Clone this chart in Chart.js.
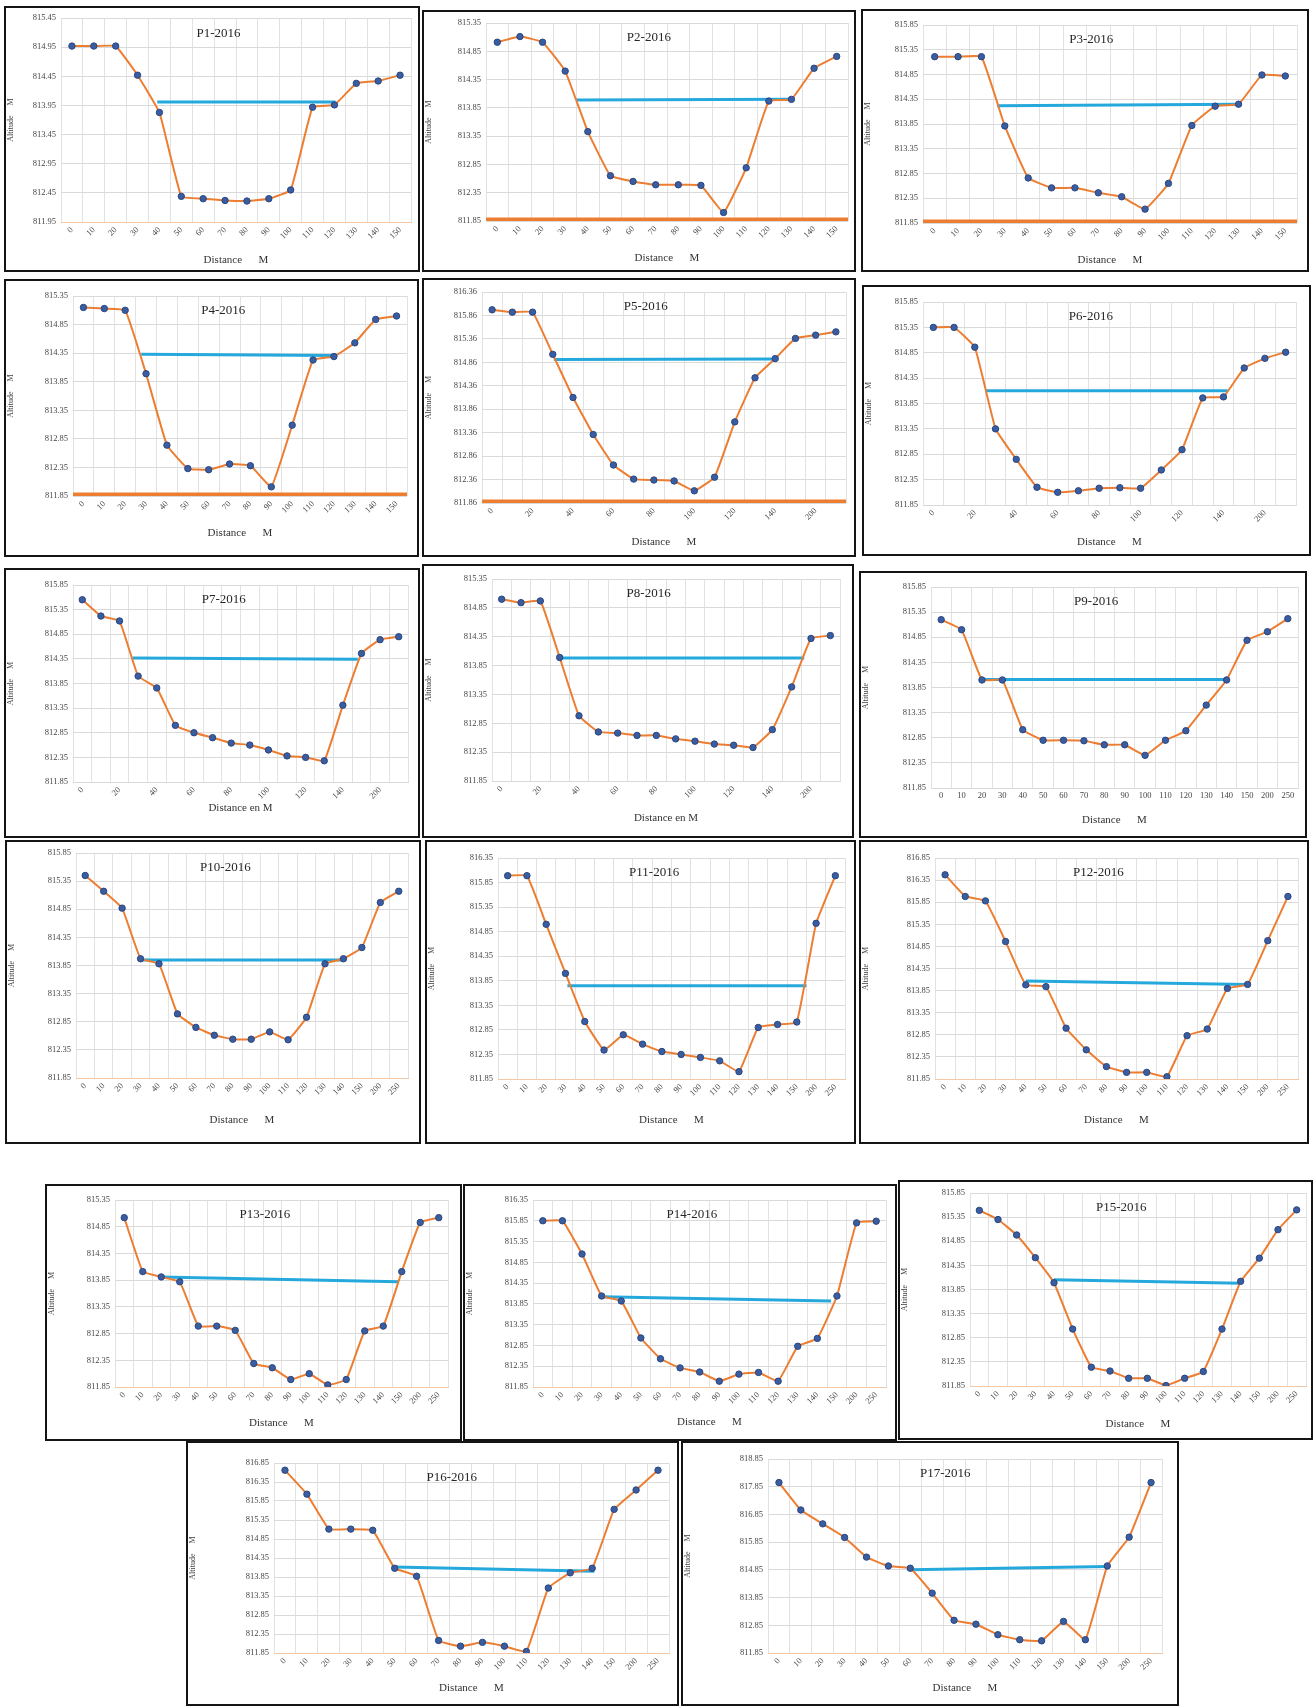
<!DOCTYPE html>
<html>
<head>
<meta charset="utf-8">
<script src="https://cdn.jsdelivr.net/npm/chart.js@4.4.0/dist/chart.umd.min.js"></script>
<style>
  body { margin: 0; background: #fff; width: 1313px; height: 1706px; position: relative; overflow: hidden; }
  .box { position: absolute; box-sizing: border-box; border: 2px solid #141414; background: #fff; }
  .box canvas { display: block; }
</style>
</head>
<body>
<script>
// distances (categories)
const dist16 = ['0', '10', '20', '30', '40', '50', '60', '70', '80', '90', '100', '110', '120', '130', '140', '150'];
const dist18 = dist16.concat(['200', '250']);

const titles = ['P1-2016', 'P2-2016', 'P3-2016', 'P4-2016', 'P5-2016', 'P6-2016', 'P7-2016', 'P8-2016', 'P9-2016',
  'P10-2016', 'P11-2016', 'P12-2016', 'P13-2016', 'P14-2016', 'P15-2016', 'P16-2016', 'P17-2016'];

// altitude of the bed (m)
const altP1 = [814.97, 814.97, 814.97, 814.47, 813.83, 812.39, 812.35, 812.32, 812.31, 812.35, 812.50, 813.92, 813.96, 814.33, 814.37, 814.47];
const altP2 = [815.01, 815.11, 815.01, 814.50, 813.43, 812.65, 812.55, 812.49, 812.49, 812.48, 812.00, 812.79, 813.97, 814.00, 814.55, 814.76];
const altP3 = [815.21, 815.21, 815.21, 813.81, 812.76, 812.56, 812.56, 812.46, 812.38, 812.13, 812.65, 813.82, 814.21, 814.25, 814.84, 814.82];
const altP4 = [815.15, 815.13, 815.10, 813.99, 812.74, 812.33, 812.31, 812.41, 812.38, 812.01, 813.09, 814.23, 814.29, 814.53, 814.94, 815.00];
const altP5 = [815.98, 815.93, 815.93, 815.03, 814.11, 813.32, 812.67, 812.37, 812.35, 812.33, 812.12, 812.41, 813.59, 814.53, 814.94, 815.37, 815.44, 815.51];
const altP6 = [815.35, 815.35, 814.96, 813.35, 812.75, 812.20, 812.10, 812.13, 812.18, 812.19, 812.18, 812.54, 812.94, 813.96, 813.98, 814.55, 814.74, 814.86];
const altP7 = [815.55, 815.22, 815.12, 814.00, 813.76, 813.00, 812.85, 812.75, 812.64, 812.60, 812.50, 812.38, 812.35, 812.28, 813.41, 814.46, 814.74, 814.80];
const altP8 = [815.00, 814.94, 814.97, 813.99, 812.98, 812.70, 812.68, 812.64, 812.64, 812.58, 812.54, 812.49, 812.47, 812.43, 812.74, 813.48, 814.32, 814.37];
const altP9 = [815.20, 815.00, 814.00, 814.00, 813.01, 812.80, 812.80, 812.79, 812.71, 812.71, 812.50, 812.80, 812.99, 813.50, 814.00, 814.79, 814.96, 815.22];
const altP10 = [815.45, 815.17, 814.87, 813.97, 813.88, 812.99, 812.75, 812.61, 812.54, 812.54, 812.67, 812.53, 812.93, 813.88, 813.97, 814.17, 814.97, 815.17];
const altP11 = [815.99, 815.99, 815.00, 814.00, 813.02, 812.44, 812.75, 812.56, 812.41, 812.35, 812.29, 812.22, 812.00, 812.90, 812.96, 813.01, 815.02, 815.99];
const altP12 = [816.47, 815.98, 815.88, 814.96, 813.98, 813.94, 813.00, 812.51, 812.13, 812.00, 812.00, 811.90, 812.83, 812.98, 813.90, 813.99, 814.98, 815.98];
const altP13 = [815.02, 814.01, 813.91, 813.82, 812.99, 812.99, 812.91, 812.29, 812.21, 811.99, 812.10, 811.89, 811.99, 812.90, 812.99, 814.01, 814.93, 815.02];
const altP14 = [815.85, 815.85, 815.05, 814.04, 813.92, 813.03, 812.53, 812.31, 812.21, 811.99, 812.16, 812.20, 811.99, 812.83, 813.02, 814.04, 815.80, 815.84];
const altP15 = [815.49, 815.30, 814.98, 814.51, 813.99, 813.03, 812.24, 812.16, 812.01, 812.01, 811.86, 812.01, 812.15, 813.03, 814.02, 814.50, 815.09, 815.50];
const altP16 = [816.66, 816.03, 815.11, 815.11, 815.08, 814.08, 813.87, 812.18, 812.03, 812.13, 812.03, 811.89, 813.56, 813.96, 814.08, 815.63, 816.14, 816.66];
const altP17 = [818.00, 817.01, 816.51, 816.02, 815.31, 814.99, 814.91, 814.01, 813.03, 812.89, 812.51, 812.33, 812.29, 812.99, 812.33, 814.99, 816.03, 818.00];

// water level: [category position, altitude] at both banks
const waterP1 = [[3.9, 814.01], [12.05, 814.01]];
const waterP2 = [[3.48, 813.99], [13, 814.00]];
const waterP3 = [[2.67, 814.22], [13, 814.25]];
const waterP4 = [[2.77, 814.33], [12.1, 814.31]];
const waterP5 = [[3.05, 814.92], [14, 814.93]];
const waterP6 = [[2.5, 814.10], [14.2, 814.10]];
const waterP7 = [[2.7, 814.37], [14.8, 814.34]];
const waterP8 = [[3, 813.98], [15.65, 813.98]];
const waterP9 = [[2, 814.01], [14, 814.01]];
const waterP10 = [[3, 813.95], [14, 813.95]];
const waterP11 = [[3.1, 813.75], [15.5, 813.75]];
const waterP12 = [[4, 814.07], [15, 813.99]];
const waterP13 = [[2, 813.91], [14.8, 813.82]];
const waterP14 = [[3, 814.02], [14.7, 813.92]];
const waterP15 = [[4, 814.05], [14, 813.98]];
const waterP16 = [[5, 814.11], [14.1, 814.00]];
const waterP17 = [[6, 814.85], [15, 814.97]];

// y axis ticks
const yMin = [811.95, 811.85, 811.85, 811.85, 811.86, 811.85, 811.85, 811.85, 811.85, 811.85, 811.85, 811.85, 811.85, 811.85, 811.85, 811.85, 811.85];
const yMax = [815.45, 815.35, 815.85, 815.35, 816.36, 815.85, 815.85, 815.35, 815.85, 815.85, 816.35, 816.85, 815.35, 816.35, 815.85, 816.85, 818.85];
const yStep = [0.5, 0.5, 0.5, 0.5, 0.5, 0.5, 0.5, 0.5, 0.5, 0.5, 0.5, 0.5, 0.5, 0.5, 0.5, 0.5, 1];

const altitudes = [altP1, altP2, altP3, altP4, altP5, altP6, altP7, altP8, altP9, altP10, altP11, altP12, altP13, altP14, altP15, altP16, altP17];
const waters = [waterP1, waterP2, waterP3, waterP4, waterP5, waterP6, waterP7, waterP8, waterP9, waterP10, waterP11, waterP12, waterP13, waterP14, waterP15, waterP16, waterP17];

// page layout: box [x, y, w, h] and plot insets [left, top, right, bottom, below-title]
const boxes = [
  [4, 6, 416, 266], [422, 10, 434, 262], [861, 9, 448, 263],
  [4, 279, 415, 278], [422, 278, 434, 279], [862, 285, 449, 271],
  [4, 568, 416, 270], [422, 564, 432, 274], [859, 571, 448, 267],
  [5, 840, 416, 304], [425, 840, 431, 304], [859, 840, 450, 304],
  [45, 1184, 417, 257], [463, 1184, 434, 257], [898, 1180, 415, 260],
  [186, 1441, 493, 265], [681, 1441, 498, 265]
];
const insets = [
  [57, 12, 9, 50, 0], [64, 13, 8, 51, 2], [62, 16, 12, 49, 0],
  [69, 17, 12, 61, 12], [60, 14, 10, 54, 3], [61, 17, 15, 51, 2],
  [69, 17, 12, 56, 18], [70, 15, 14, 57, 8], [72, 16, 9, 50, 6],
  [71, 13, 13, 66, 12], [73, 18, 11, 65, 12], [76, 18, 11, 65, 12],
  [70, 16, 14, 54, 6], [70, 16, 11, 54, 7], [72, 13, 6, 54, 4],
  [88, 22, 10, 53, 6], [87, 18, 17, 53, 6]
];
const thickBase = [false, true, true, true, true, false, false, false, false, false, false, false, false, false, false, false, false];
const skipOdd = [false, false, false, false, true, true, true, true, false, false, false, false, false, false, false, false, false];
const xTitles = titles.map((t, k) => (k === 6 || k === 7) ? 'Distance en M' : 'Distance      M');
const axisLine = ['#F4C7A5', null, null, null, null, '#D9D9D9', '#D9D9D9', '#D9D9D9', '#D9D9D9',
  '#F4C7A5', '#F4C7A5', '#F4C7A5', '#F4C7A5', '#F4C7A5', '#F4C7A5', '#F4C7A5', '#F4C7A5'];

const SERIF = '"Liberation Serif", "DejaVu Serif", serif';

const profileTitle = {
  id: 'profileTitle',
  afterDraw(chart, args, opts) {
    const { ctx, chartArea } = chart;
    ctx.save();
    ctx.font = '13px ' + SERIF;
    ctx.fillStyle = '#262626';
    ctx.textAlign = 'center';
    ctx.textBaseline = 'middle';
    ctx.fillText(opts.text, chartArea.left + chartArea.width * 0.45, chartArea.top + 15);
    ctx.restore();
  }
};

function buildProfile(k) {
  const [bx, by, bw, bh] = boxes[k];
  const [il, it, ir, ib, ex] = insets[k];
  const labels = altitudes[k].length === 16 ? dist16 : dist18;
  const n = labels.length;

  const box = document.createElement('div');
  box.className = 'box';
  Object.assign(box.style, { left: bx + 'px', top: by + 'px', width: bw + 'px', height: bh + 'px' });
  const canvas = document.createElement('canvas');
  canvas.width = bw - 4;
  canvas.height = bh - 4;
  box.appendChild(canvas);
  document.body.appendChild(box);

  const datasets = [{
    data: altitudes[k].map((v, i) => ({ x: i, y: v })),
    borderColor: '#ED7D31',
    borderWidth: 2,
    tension: 0.1,
    pointRadius: 3.2,
    pointBackgroundColor: '#3A5DA0',
    pointBorderColor: '#2A4682',
    pointBorderWidth: 1
  }, {
    data: waters[k].map(([x, y]) => ({ x, y })),
    borderColor: '#25A9DC',
    borderWidth: 3,
    pointRadius: 0
  }];
  if (thickBase[k]) {
    datasets.push({
      data: [{ x: -0.5, y: yMin[k] }, { x: n - 0.5, y: yMin[k] }],
      borderColor: '#ED7D31',
      borderWidth: 7,
      pointRadius: 0
    });
  }

  const yTicks = [];
  const count = Math.round((yMax[k] - yMin[k]) / yStep[k]);
  for (let i = 0; i <= count; i++) yTicks.push({ value: Math.round((yMin[k] + i * yStep[k]) * 100) / 100 });

  const rot = k === 8 ? 0 : 45;

  new Chart(canvas, {
    type: 'line',
    data: { datasets },
    options: {
      responsive: false,
      animation: false,
      layout: { padding: { left: 0, top: it - 2, right: ir - 2, bottom: ex } },
      plugins: {
        legend: { display: false },
        tooltip: { enabled: false },
        profileTitle: { text: titles[k] }
      },
      scales: {
        x: {
          type: 'linear',
          min: -0.5,
          max: n - 0.5,
          afterBuildTicks: s => { s.ticks = labels.map((_, i) => ({ value: i })); },
          afterFit: s => { s.height = ib - 2 - ex; },
          ticks: {
            autoSkip: false,
            minRotation: rot,
            maxRotation: rot,
            padding: 3,
            color: '#454545',
            font: { family: SERIF, size: 8.5 },
            callback: v => (skipOdd[k] && v % 2 === 1) ? '' : labels[v]
          },
          grid: { offset: true, color: '#E2E2E2', drawTicks: false },
          border: axisLine[k] ? { color: axisLine[k], width: 1 } : { display: false },
          title: {
            display: true,
            text: xTitles[k],
            color: '#333333',
            font: { family: SERIF, size: 11 },
            padding: { top: 2, bottom: 3 }
          }
        },
        y: {
          min: yMin[k],
          max: yMax[k],
          afterBuildTicks: s => { s.ticks = yTicks; },
          afterFit: s => { s.width = il - 2; },
          ticks: {
            padding: 5,
            color: '#454545',
            font: { family: SERIF, size: 8.5 },
            callback: v => v.toFixed(2)
          },
          grid: { color: '#DADADA', drawTicks: false },
          border: { display: false },
          title: {
            display: true,
            text: 'Altitude     M',
            color: '#404040',
            font: { family: SERIF, size: 8 },
            padding: { top: 0, bottom: 2 }
          }
        }
      }
    },
    plugins: [profileTitle]
  });
}

titles.forEach((t, k) => buildProfile(k));
</script>
</body>
</html>
